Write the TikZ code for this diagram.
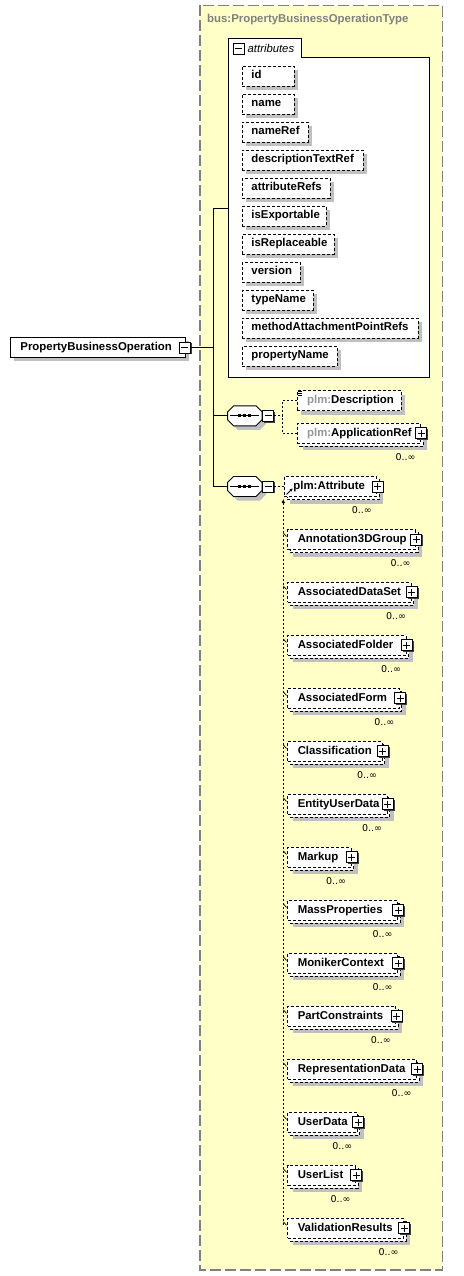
\documentclass[tikz,border=0pt]{standalone}
\usepackage{fontspec}
\newfontfamily\lsans{Liberation Sans}
\newfontfamily\dsans{DejaVu Sans}
\usetikzlibrary{arrows.meta,shadows}
\definecolor{bgyellow}{RGB}{255,255,200}
\definecolor{shgray}{RGB}{192,192,192}
\definecolor{bdgray}{RGB}{128,128,128}
\definecolor{pfgray}{RGB}{150,150,150}
\tikzset{
  lblfont/.style={font=\lsans\bfseries\fontsize{11.4}{13}\selectfont},
  gshadow/.style={drop shadow={shadow xshift=4pt, shadow yshift=-4pt, fill=shgray, opacity=1}},
  dashbox/.style={draw=black, line width=0.9pt, dash pattern=on 3pt off 2pt, fill=white},
  attrbox/.style={dashbox, gshadow, lblfont, anchor=west, align=left, inner xsep=9pt, inner ysep=0pt, minimum height=20pt, text height=8.3pt, text depth=2.6pt},
  elbox/.style={dashbox, lblfont, anchor=west, align=left, inner xsep=10pt, inner ysep=0pt, minimum height=20pt, text height=8.3pt, text depth=2.6pt},
  mainbox/.style={draw=black, line width=0.9pt, fill=white, gshadow, lblfont, anchor=west, align=left, inner xsep=10pt, inner ysep=0pt, minimum height=20pt, text height=8.3pt, text depth=2.6pt},
  pmbox/.style={draw=black, line width=1pt, fill=white, minimum size=11pt, inner sep=0pt, drop shadow={shadow xshift=1.3pt, shadow yshift=-1.3pt, fill=black!75, opacity=1}},
  plusbox/.style={pmbox, path picture={\draw[line width=0.9pt] ([xshift=-3.5pt]path picture bounding box.center) -- ([xshift=3.5pt]path picture bounding box.center) ([yshift=-3.5pt]path picture bounding box.center) -- ([yshift=3.5pt]path picture bounding box.center);}},
  minusbox/.style={pmbox, path picture={\draw[line width=0.9pt] ([xshift=-3.5pt]path picture bounding box.center) -- ([xshift=3.5pt]path picture bounding box.center);}},
  multfont/.style={font=\dsans\fontsize{9.5}{11}\selectfont, inner sep=0pt},
  conn/.style={draw=black, line width=0.9pt},
  dconn/.style={draw=black, line width=0.9pt, dash pattern=on 2pt off 2pt},
}
\newcommand\seqicon[3]{%
  \fill[shgray, shift={(4,4)}] (#1-11.2,#2-10) -- (#1+11.2,#2-10) -- (#1+17.2,#2-4) -- (#1+17.2,#2+4) -- (#1+11.2,#2+10) -- (#1-11.2,#2+10) -- (#1-17.2,#2+4) -- (#1-17.2,#2-4) -- cycle;
  \draw[conn, fill=white] (#1-11.2,#2-10) -- (#1+11.2,#2-10) -- (#1+17.2,#2-4) -- (#1+17.2,#2+4) -- (#1+11.2,#2+10) -- (#1-11.2,#2+10) -- (#1-17.2,#2+4) -- (#1-17.2,#2-4) -- cycle;
  \draw[conn] (#1-14.5,#2) -- (#1+14.5,#2);
  \fill (#1-6.5,#2-1.5) rectangle ++(3,3);
  \fill (#1-1.5,#2-1.5) rectangle ++(3,3);
  \fill (#1+3.5,#2-1.5) rectangle ++(3,3);
  \node[inner sep=0pt, minimum width=34.4pt, minimum height=20pt] (#3) at (#1,#2) {};
}
\begin{document}
\begin{tikzpicture}[x=1pt,y=-1pt]
\useasboundingbox (0,0) rectangle (463,1276);
% outer type box
\draw[fill=bgyellow, draw=bdgray, line width=1.2pt, dash pattern=on 11pt off 4pt] (200,5.3) rectangle (442.3,1270);
\node[font=\lsans\bfseries\fontsize{11.4}{13}\selectfont, text=bdgray, anchor=west, inner sep=0pt] (title) at (207,19.5) {bus:PropertyBusinessOperationType};
% attributes group
\draw[conn, fill=white] (228.7,377) -- (228.7,38.3) -- (301,38.3) -- (301,57.3) -- (429,57.3) -- (429,377) -- cycle;
\node[minusbox] (attrm) at (238.5,48.7) {};
\node[font=\lsans\itshape\fontsize{11.3}{13}\selectfont, anchor=west, inner sep=0pt] (attrlbl) at (247.5,48.5) {attributes};
\coordinate (attrin) at (228.7,208.3);
\foreach \n/\t/\k/\w in {at1/id/0/52, at2/name/1/52, at3/nameRef/2/66, at4/descriptionTextRef/3/121, at5/attributeRefs/4/87.7, at6/isExportable/5/83.7, at7/isReplaceable/6/91.7, at8/version/7/57.7, at9/typeName/8/70.7, at10/methodAttachmentPointRefs/9/176, at11/propertyName/10/94.7}{
  \pgfmathsetmacro\yc{76+28*\k}
  \pgfmathsetmacro\tw{\w-18}
  \node[attrbox, text width=\tw pt] (\n) at (242,\yc) {\mbox{\t}};
}
% main element
\node[mainbox, text width=155pt] (pbo) at (10,347.3) {\mbox{PropertyBusinessOperation}};
\node[minusbox] (pbom) at (184.7,347.6) {};
\coordinate (ja) at (213.3,208.3);
\coordinate (jb) at (213.3,486.5);
\draw[conn] (ja) -- (jb);
\draw[conn] (ja) -- (attrin);
\draw[conn] (pbom.east) -- (pbom.east -| ja);
% sequences
\seqicon{244.8}{415.8}{s1}
\seqicon{244.8}{486.5}{s2}
\draw[conn] (s1.west) -- (s1.west -| ja);
\draw[conn] (s2.west) -- (s2.west -| ja);
\node[minusbox] (s1m) at (268,415.8) {};
\node[minusbox] (s2m) at (268,486.5) {};
% first sequence children
\node[elbox, gshadow, text width=84.3pt] (desc) at (296.7,400.7) {\mbox{{\color{pfgray}plm:}Description}};
\draw[line width=0.8pt] (297.6,391.6) -- (302.2,391.6) (297.6,393.6) -- (302.2,393.6) (297.6,395.6) -- (302.2,395.6);
\fill[shgray] (302.7,430.3) rectangle (427,450.3);
\draw[dashbox] (299.7,426.3) rectangle (423,446.3);
\node[elbox, text width=103.3pt] (appref) at (296.7,433.3) {\mbox{{\color{pfgray}plm:}ApplicationRef}};
\node[plusbox] (apprefp) at (421.2,433.3) {};
\node[multfont, anchor=east] (apprefm) at (415.7,457.3) {0..∞};
\coordinate (b1) at (282,415.8);
\draw[dconn] (s1m.east) -- (b1);
\draw[dconn] (desc.west) -| (b1);
\draw[dconn] (appref.west) -| (b1);
% second sequence child
\fill[shgray] (290,483.5) rectangle (383.3,503.5);
\draw[dashbox] (287,479.5) rectangle (379.3,499.5);
\node[elbox, inner xsep=9pt, text width=74.3pt] (attr) at (284,486.5) {\mbox{plm:Attribute}};
\node[plusbox] (attrp) at (377.5,486.5) {};
\node[multfont, anchor=east] (attrmult) at (372,510) {0..∞};
\draw[line width=0.9pt, -{Stealth[length=3pt,width=3pt]}] ([xshift=2.6pt,yshift=-8pt]attr.west) -- ([xshift=8.6pt,yshift=-2pt]attr.west);
\draw[dconn] (s2m.east) -- (attr.west);
\coordinate (vb) at (283.3,1224.5);
\coordinate (vt) at (283.3,498.6);
\draw[dconn, -{Latex[length=4.5pt,width=3.5pt]}] (vb) -- (vt);
% substitution group members
\foreach \n/\t/\k/\r in {a1/Annotation3DGroup/0/415, a2/AssociatedDataSet/1/410.5, a3/AssociatedFolder/2/405.5, a4/AssociatedForm/3/398.8, a5/Classification/4/381.6, a6/EntityUserData/5/386.6, a7/Markup/6/350.5, a8/MassProperties/7/397, a9/MonikerContext/8/397, a10/PartConstraints/9/395.3, a11/RepresentationData/10/416, a12/UserData/11/356.8, a13/UserList/12/355, a14/ValidationResults/13/403}{
  \pgfmathsetmacro\yc{539.5+52.98*\k}
  \pgfmathsetmacro\tw{\r-307.3}
  \fill[shgray] (293.3,\yc-3) rectangle (\r+7,\yc+17);
  \draw[dashbox] (290.3,\yc-7) rectangle (\r+3,\yc+13);
  \node[elbox, text width=\tw pt] (\n) at (287.3,\yc) {\mbox{\t}};
  \node[plusbox] (\n p) at (\r+1.2,\yc) {};
  \node[multfont, anchor=east] (\n m) at (\r-4.3,\yc+23.5) {0..∞};
  \draw[line width=0.7pt] ([xshift=-4pt,yshift=6.5pt]\n.west) -- ([xshift=-0.8pt,yshift=3pt]\n.west);
}
\end{tikzpicture}
\end{document}
